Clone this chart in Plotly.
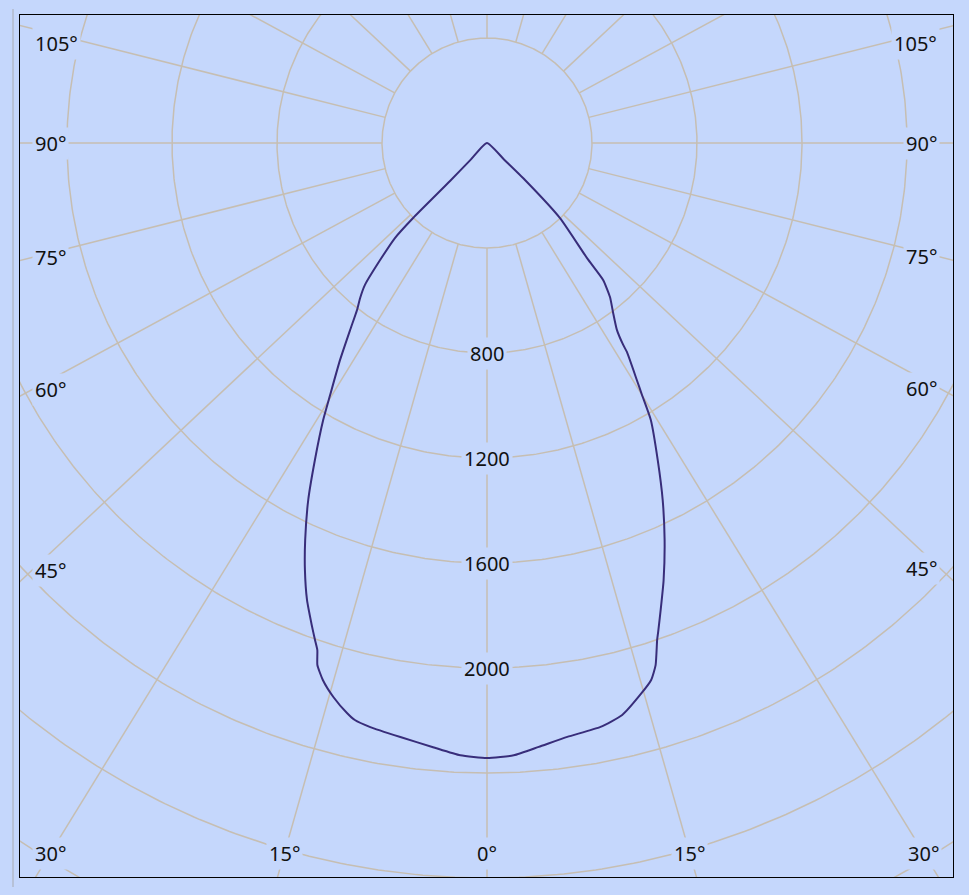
import numpy as np
import plotly.graph_objects as go

# ---- data ----
gamma_deg = [-90, -44.3, -44.2, -44.6, -44.1, -42.4, -40.7, -39.3, -37.9, -36.2, -34.1,
             -31.9, -30.6, -28.5, -26.6, -24.6, -23.1, -21.5, -20.0, -19.1, -18.5,
             -18.0, -17.0, -15.5, -13.8, -12.9, -11.3, -8.3, -5.1, -2.5, 0.0,
             2.5, 4.9, 7.7, 11.0, 13.3, 15.5, 17.0, 17.9, 18.9, 19.3, 20.4,
             22.0, 24.1, 26.2, 28.3, 30.6, 31.6, 32.3, 33.8, 34.0, 34.8,
             36.7, 38.6, 40.3, 41.0, 44.2, 45.8, 45.9, 90]
intensity_cd = [0, 90, 202, 401, 504, 604, 713, 763, 806, 883, 999,
                1131, 1226, 1374, 1521, 1664, 1768, 1871, 1953, 2003, 2037,
                2091, 2139, 2190, 2236, 2255, 2269, 2287, 2311, 2335, 2343,
                2335, 2309, 2283, 2266, 2239, 2182, 2139, 2090, 2001, 1973, 1898,
                1796, 1657, 1516, 1372, 1226, 1127, 1068, 958, 928, 867,
                803, 751, 684, 581, 399, 202, 90, 0]

circle_values = [400, 800, 1200, 1600, 2000, 2400, 2800, 3200, 3600]
circle_label_values = [800, 1200, 1600, 2000]
ray_angles = [0, 15, 30, 45, 60, 75, 90, 105, 120, 135, 150, 165, 180]
side_label_angles = [45, 60, 75, 90, 105]
bottom_label_angles = [0, 15, 30]

# ---- style ----
BG = '#C5D7FC'
GRID = 'rgb(198,190,178)'
CURVE = '#382D7A'
FONT = dict(family='Noto Sans, Open Sans, sans-serif', size=20, color='#111111')

S = 400 / 105.0          # cd per pixel
XR = [-467 * S, 466 * S]
YR = [-734 * S, 128 * S]
K = 1.065                # horizontal stretch of the angle rays in the reference

fig = go.Figure()

# circles
phi = np.linspace(0, 2 * np.pi, 721)
cx, cy = [], []
for r in circle_values:
    cx += list(r * np.sin(phi)) + [None]
    cy += list(-r * np.cos(phi)) + [None]
fig.add_trace(go.Scatter(x=cx, y=cy, mode='lines',
                         line=dict(color=GRID, width=1.5), hoverinfo='skip'))


def ray_dir(a_deg, sgn):
    t = np.radians(a_deg)
    ux, uy = sgn * K * np.sin(t), -np.cos(t)
    n = np.hypot(ux, uy)
    return ux / n, uy / n


# rays
rx, ry = [], []
r_in = circle_values[0]
for a in ray_angles:
    for sgn in ([1] if a in (0, 180) else [1, -1]):
        ux, uy = ray_dir(a, sgn)
        rx += [r_in * ux, 8000 * ux, None]
        ry += [r_in * uy, 8000 * uy, None]
fig.add_trace(go.Scatter(x=rx, y=ry, mode='lines',
                         line=dict(color=GRID, width=1.5), hoverinfo='skip'))

# curve
th = np.radians(gamma_deg)
I = np.array(intensity_cd, dtype=float)
fig.add_trace(go.Scatter(x=I * np.sin(th), y=-I * np.cos(th), mode='lines',
                         line=dict(color=CURVE, width=2, shape='spline', smoothing=0.5),
                         hoverinfo='skip'))

annotations = []
# value labels along the 0 deg ray
for v in circle_label_values:
    annotations.append(dict(x=0, y=-v, xref='x', yref='y', text=str(v),
                            showarrow=False, bgcolor=BG, borderpad=2, font=FONT))

# angle labels on the sides
x_left = XR[0] + 12 * S
x_right = XR[1] - 13 * S
y_top_max = YR[1] - 28 * S
for a in side_label_angles:
    for sgn, xl, anchor in ((-1, x_left, 'left'), (1, x_right, 'right')):
        ux, uy = ray_dir(a, sgn)
        t = xl / ux
        y = min(t * uy, y_top_max)
        annotations.append(dict(x=xl, y=y, xref='x', yref='y', text=f'{a}°',
                                xanchor=anchor, yanchor='middle', showarrow=False,
                                bgcolor=BG, borderpad=2, font=FONT))

# angle labels at the bottom
y_bot = YR[0] + 24 * S
for a in bottom_label_angles:
    for sgn in ([1] if a == 0 else [-1, 1]):
        ux, uy = ray_dir(a, sgn)
        t = y_bot / uy
        annotations.append(dict(x=t * ux, y=y_bot, xref='x', yref='y', text=f'{a}°',
                                xanchor='center', yanchor='middle', showarrow=False,
                                bgcolor=BG, borderpad=2, font=FONT))

axis_common = dict(showgrid=False, zeroline=False, showticklabels=False, ticks='',
                   showline=True, mirror=True, linecolor='black', linewidth=1.3,
                   fixedrange=True)

fig.update_layout(
    width=969, height=895,
    margin=dict(l=20, r=16, t=15, b=18),
    paper_bgcolor=BG, plot_bgcolor=BG,
    showlegend=False,
    xaxis=dict(range=XR, **axis_common),
    yaxis=dict(range=YR, **axis_common),
    annotations=annotations,
    shapes=[dict(type='line', xref='paper', yref='paper',
                 x0=-7 / 933, x1=-7 / 933, y0=-10 / 862, y1=1 + 6 / 862,
                 line=dict(color='#A8ABB2', width=1))],
)

fig.write_html('out.html', config={'displayModeBar': False},
               post_script="document.body.style.margin='0';"
                           "document.body.style.background='" + BG + "';")
